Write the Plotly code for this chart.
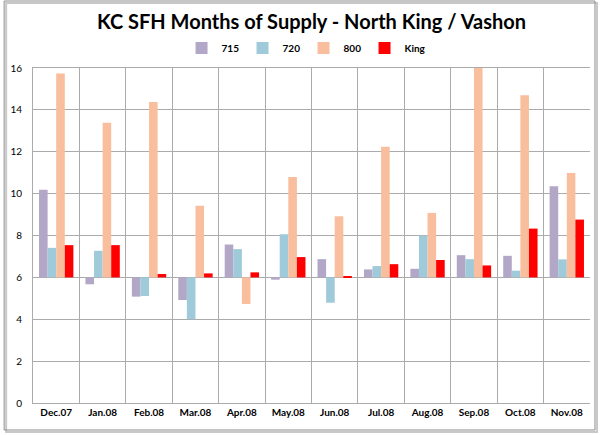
import plotly.graph_objects as go

categories = ["Dec.07", "Jan.08", "Feb.08", "Mar.08", "Apr.08", "May.08",
              "Jun.08", "Jul.08", "Aug.08", "Sep.08", "Oct.08", "Nov.08"]
s715 = [10.19, 5.67, 5.08, 4.92, 7.57, 5.89, 6.87, 6.38, 6.41, 7.06, 7.03, 10.35]
s720 = [7.41, 7.27, 5.11, 4.00, 7.35, 8.06, 4.79, 6.54, 8.00, 6.87, 6.32, 6.86]
s800 = [15.74, 13.39, 14.38, 9.42, 4.73, 10.79, 8.92, 12.24, 9.08, 16.0, 14.70, 10.98]
sKing = [7.54, 7.54, 6.16, 6.19, 6.24, 6.97, 6.06, 6.63, 6.83, 6.57, 8.33, 8.76]
series_names = ["715", "720", "800", "King"]
colors = ["#B3A7C8", "#9FCAD9", "#F9BE9E", "#FF0000"]
BASE = 6
y_ticks = [0, 2, 4, 6, 8, 10, 12, 14, 16]

FONT = "Lato"

fig = go.Figure()
for name, vals, col in zip(series_names, [s715, s720, s800, sKing], colors):
    fig.add_trace(go.Bar(
        x=categories, y=[v - BASE for v in vals], base=[BASE] * len(vals),
        name="<b>" + name + "</b>", marker=dict(color=col, line=dict(width=0)),
    ))

W, H = 600, 435
L, R, T, B = 30, 10, 68, 32
pw, ph = W - L - R, H - T - B

def px(x):
    return (x - L) / pw

def py(y):
    return (H - B - y) / ph

fig.update_layout(
    width=W, height=H,
    margin=dict(l=L, r=R, t=T, b=B),
    paper_bgcolor="white", plot_bgcolor="white",
    barmode="group", bargap=0.26, bargroupgap=0,
    font=dict(family=FONT, color="#000000"),
    title=dict(text="<b>KC SFH Months of Supply - North King / Vashon</b>",
               x=0.5, xref="paper", xanchor="center", y=1 - 22 / H, yanchor="middle",
               font=dict(size=20, family=FONT, color="#000000")),
    legend=dict(orientation="h", x=px(302), xanchor="center", y=py(48), yanchor="middle",
                font=dict(size=10, family=FONT, color="#000000"),
                itemwidth=30, entrywidth=16, entrywidthmode="pixels",
                tracegroupgap=0, traceorder="normal"),
    xaxis=dict(type="category", tickson="boundaries", showgrid=True, gridcolor="#ABABAB",
               gridwidth=1, showline=True, linecolor="#ABABAB", mirror=True,
               ticks="", tickfont=dict(size=10, family=FONT, color="#000000"),
               tickprefix="<b>", ticksuffix="</b>", fixedrange=True),
    yaxis=dict(range=[0, 16], tickvals=y_ticks, showgrid=True, gridcolor="#ABABAB",
               gridwidth=1, showline=True, linecolor="#ABABAB", zeroline=False,
               ticks="", tickfont=dict(size=10, family=FONT, color="#000000"),
               tickprefix="<b>", ticksuffix="</b>", ticklabelstandoff=8, fixedrange=True),
    shapes=[
        dict(type="rect", xref="paper", yref="paper",
             x0=px(3), x1=px(597), y0=py(432), y1=py(3),
             line=dict(color="#C8C8C8", width=2), fillcolor="rgba(0,0,0,0)", layer="below"),
        dict(type="rect", xref="paper", yref="paper",
             x0=px(1), x1=px(595), y0=py(430), y1=py(1),
             line=dict(color="#8C8C8C", width=1), fillcolor="rgba(0,0,0,0)", layer="below"),
    ],
)

fig.write_html("out.html")
